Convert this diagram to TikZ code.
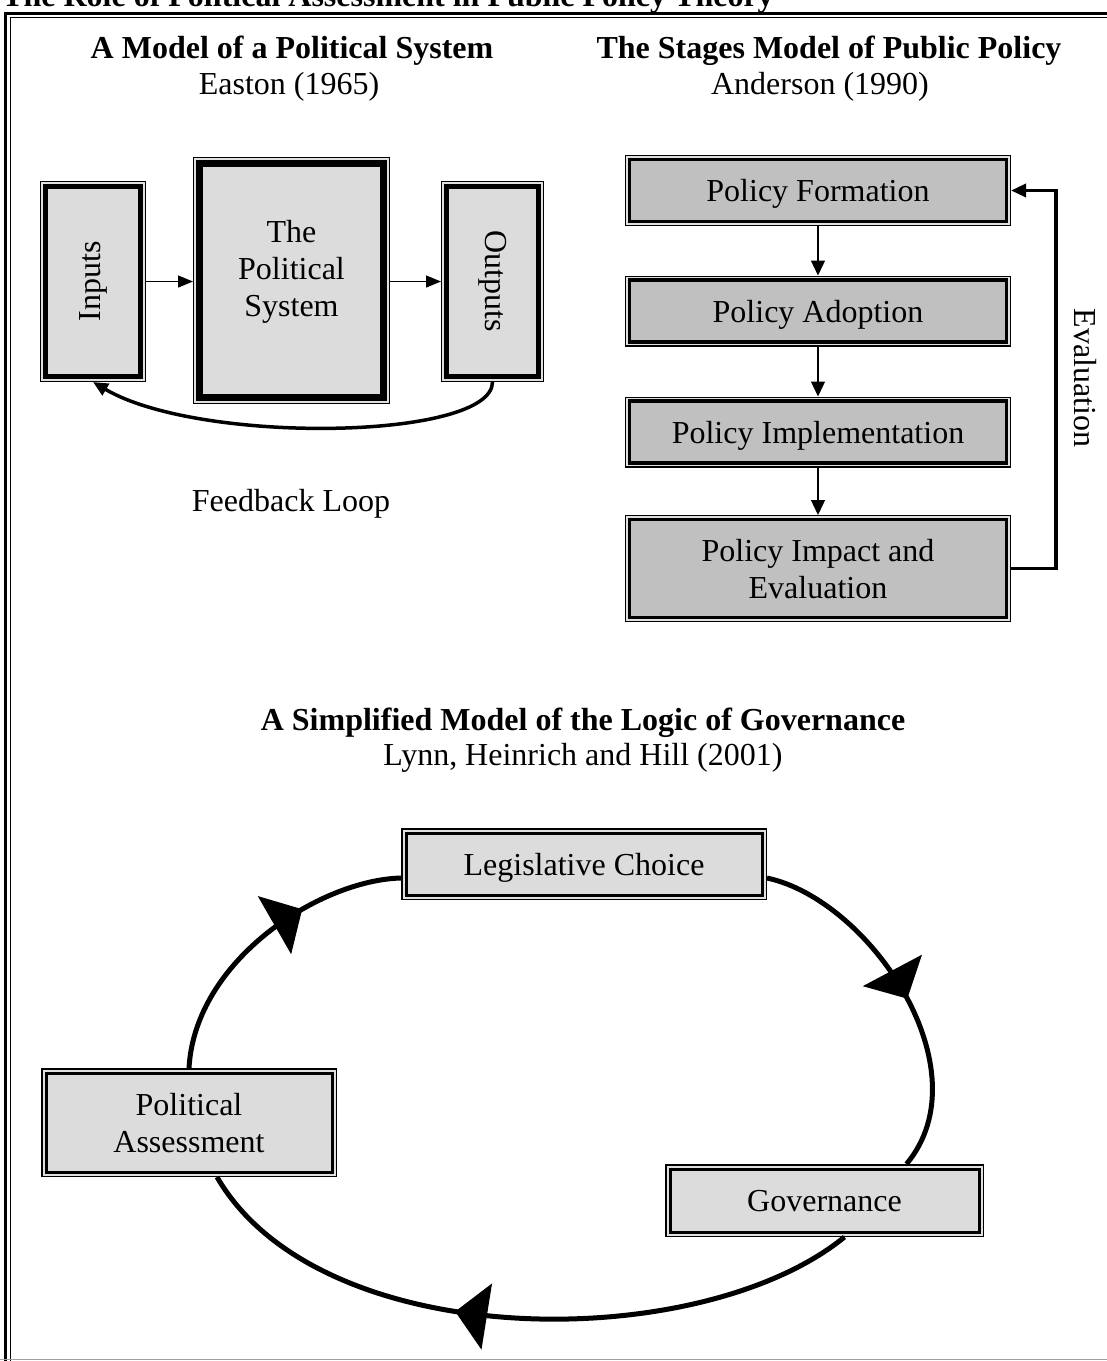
\documentclass[tikz,border=0pt]{standalone}
\usepackage{fontspec}
\setmainfont{Liberation Serif}
\usetikzlibrary{arrows.meta,decorations.markings}

\definecolor{boxlight}{HTML}{DCDCDC}
\definecolor{stagegray}{HTML}{C0C0C0}
\definecolor{gapgray}{HTML}{E0E0E0}
\definecolor{rulegray}{HTML}{A0A0A0}

\tikzset{
  % framed boxes: thin outer rule, light gap, heavy inner rule
  easton/.style={draw=black, line width=5pt, fill=boxlight, outer sep=5.5pt,
    preaction={draw=black, line width=11pt},
    preaction={draw=gapgray, line width=9pt}},
  eastonbig/.style={draw=black, line width=7pt, fill=boxlight, outer sep=6.5pt,
    preaction={draw=black, line width=13pt},
    preaction={draw=gapgray, line width=11pt}},
  stagebox/.style={draw=black, line width=3.2pt, fill=stagegray, outer sep=4.5pt,
    minimum width=377pt, minimum height=62pt, align=center,
    preaction={draw=black, line width=9pt},
    preaction={draw=gapgray, line width=6.4pt}},
  govbox/.style={draw=black, line width=3pt, fill=boxlight, outer sep=5pt, align=center,
    preaction={draw=black, line width=10pt},
    preaction={draw=gapgray, line width=7pt}},
  sideways/.style={text depth=},
  thinarrow/.style={draw=black, line width=1.3pt, -{Triangle[width=12pt,length=15pt]}},
  stagearrow/.style={draw=black, line width=1.3pt, -{Triangle[width=14pt,length=15pt]}},
  evalline/.style={draw=black, line width=3.3pt, -{Triangle[width=13pt,length=15pt]}},
  loopline/.style={draw=black, line width=3.5pt, -{Triangle[width=13pt,length=15pt]}},
  cycleline/.style={draw=black, line width=5pt},
  midarrow/.style={postaction={decorate, decoration={markings,
    mark=at position #1 with {\arrow{Triangle[width=66pt,length=32pt]}}}}},
}

\begin{document}
\begin{tikzpicture}[x=1pt, y=-1pt, font=\fontsize{32}{37}\selectfont,
  every node/.style={inner sep=0pt, text depth=0pt}]
\useasboundingbox (0,0) rectangle (1107,1361);

% page frame
\draw[line width=3pt] (5.5,1361) -- (5.5,13.5) -- (1107,13.5);
\draw[line width=1.1pt] (10.5,1361) -- (10.5,17.5) -- (1107,17.5);
\draw[rulegray, line width=1.5pt] (0,1359.5) -- (1107,1359.5);

% running title
\node[anchor=base west] (title) at (2,6) {\bfseries The Role of Political Assessment in Public Policy Theory};

% ---- Easton ----
\node (h1) at (292,47) {\bfseries A Model of a Political System};
\node (h1s) at (289,83) {Easton (1965)};

\node[easton, sideways, minimum width=95pt, minimum height=190pt] (in) at (93,281.5) {\rotatebox{90}{Inputs}};
\node[eastonbig, minimum width=184pt, minimum height=234pt] (pol) at (291.5,280.5) {};
\node[align=center] (poltext) at (291.5,268) {The\\Political\\System};
\node[easton, sideways, minimum width=92pt, minimum height=190pt] (out) at (492.5,281.5) {\rotatebox{-90}{Outputs}};

\draw[thinarrow] (in.east) -- (in.east -| pol.west);
\draw[thinarrow] (out.west -| pol.east) -- (out.west);
\draw[loopline] (out.south) .. controls (492.5,440) and (200,445) .. (in.south);

\node (fb) at (291,500) {Feedback Loop};

% ---- Anderson ----
\node (h2) at (829,47) {\bfseries The Stages Model of Public Policy};
\node (h2s) at (820,83) {Anderson (1990)};

\node[stagebox] (form) at (818,190.5) {Policy Formation};
\node[stagebox] (adopt) at (818,311) {Policy Adoption};
\node[stagebox] (impl) at (818,432) {Policy Implementation};
\node[stagebox, minimum height=98pt] (imp) at (818,568.5) {Policy Impact and\\Evaluation};

\draw[stagearrow] (form.south) -- (adopt.north);
\draw[stagearrow] (adopt.south) -- (impl.north);
\draw[stagearrow] (impl.south) -- (imp.north);
\draw[evalline] (imp.east) -- ++(45,0) |- (form.east);
\node[sideways] (eval) at (1085,378) {\rotatebox{-90}{Evaluation}};

% ---- Lynn, Heinrich and Hill ----
\node (h3) at (583,719) {\bfseries A Simplified Model of the Logic of Governance};
\node (h3s) at (583,754) {Lynn, Heinrich and Hill (2001)};

\node[govbox, minimum width=356pt, minimum height=62pt] (lc) at (584,864) {Legislative Choice};
\node[govbox, minimum width=286pt, minimum height=99pt] (pa) at (189,1122.5) {Political\\Assessment};
\node[govbox, minimum width=309pt, minimum height=63pt] (gov) at (824.5,1200.5) {Governance};

\draw[cycleline, midarrow=0.66] (pa.north) .. controls (195,960) and (320,880) .. ([yshift=-14pt]lc.west);
\draw[cycleline, midarrow=0.52] ([yshift=-14pt]lc.east) .. controls (870,900) and (985,1070) .. ([xshift=82pt]gov.north);
\draw[cycleline, midarrow=0.59] ([xshift=20pt]gov.south) .. controls (700,1355) and (320,1355) .. ([xshift=28pt]pa.south);

\end{tikzpicture}
\end{document}
